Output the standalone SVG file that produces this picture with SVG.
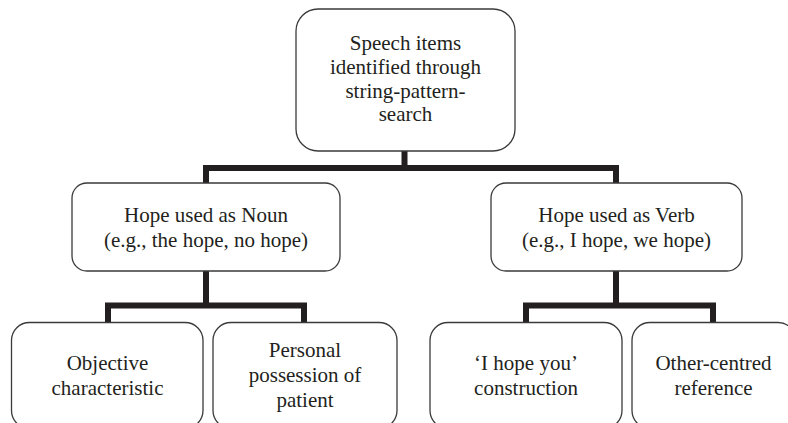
<svg xmlns="http://www.w3.org/2000/svg" width="788" height="423" viewBox="0 0 788 423">
<style>
.box{fill:#fff;stroke:#3a3a3a;stroke-width:1.3}
.t{font-family:'Liberation Serif','Times New Roman',Times,'DejaVu Serif',serif;font-size:21px;fill:#231f20;text-anchor:middle}
.c{fill:none;stroke:#231f20;stroke-width:6;stroke-linejoin:miter;stroke-linecap:butt}
</style>
<rect width="788" height="423" fill="#fff"/>
<g id="connectors">
<path class="c" d="M404.5 151 V168 M206 183 V168 H616 V183"/>
<path class="c" d="M206 271 V305.5 M108 322 V305.5 H304 V322"/>
<path class="c" d="M616 271 V305.5 M526 322 V305.5 H713 V322"/>
</g>
<g id="root">
<rect class="box" x="296" y="9" width="219" height="142" rx="22"/>
<text class="t" x="405.5" y="50">Speech items</text>
<text class="t" x="405.5" y="74">identified through</text>
<text class="t" x="405.5" y="97.5">string-pattern-</text>
<text class="t" x="405.5" y="121">search</text>
</g>
<g id="noun">
<rect class="box" x="72" y="183" width="268" height="88" rx="15"/>
<text class="t" x="206" y="222">Hope used as Noun</text>
<text class="t" x="206" y="247">(e.g., the hope, no hope)</text>
</g>
<g id="verb">
<rect class="box" x="491" y="183" width="251" height="88" rx="15"/>
<text class="t" x="616.5" y="222">Hope used as Verb</text>
<text class="t" x="616.5" y="247">(e.g., I hope, we hope)</text>
</g>
<g id="objective">
<rect class="box" x="11.5" y="322.5" width="191.5" height="106" rx="18"/>
<text class="t" x="107.5" y="370">Objective</text>
<text class="t" x="107.5" y="395">characteristic</text>
</g>
<g id="personal">
<rect class="box" x="213" y="322.5" width="184" height="106" rx="18"/>
<text class="t" x="305" y="357">Personal</text>
<text class="t" x="305" y="382">possession of</text>
<text class="t" x="305" y="407">patient</text>
</g>
<g id="ihopeyou">
<rect class="box" x="430" y="322.5" width="192" height="106" rx="18"/>
<text class="t" x="526" y="370">‘I hope you’</text>
<text class="t" x="526" y="395">construction</text>
</g>
<g id="othercentred">
<rect class="box" x="632" y="322.5" width="164" height="106" rx="18"/>
<text class="t" x="713.5" y="370">Other-centred</text>
<text class="t" x="713.5" y="395">reference</text>
</g>
</svg>
